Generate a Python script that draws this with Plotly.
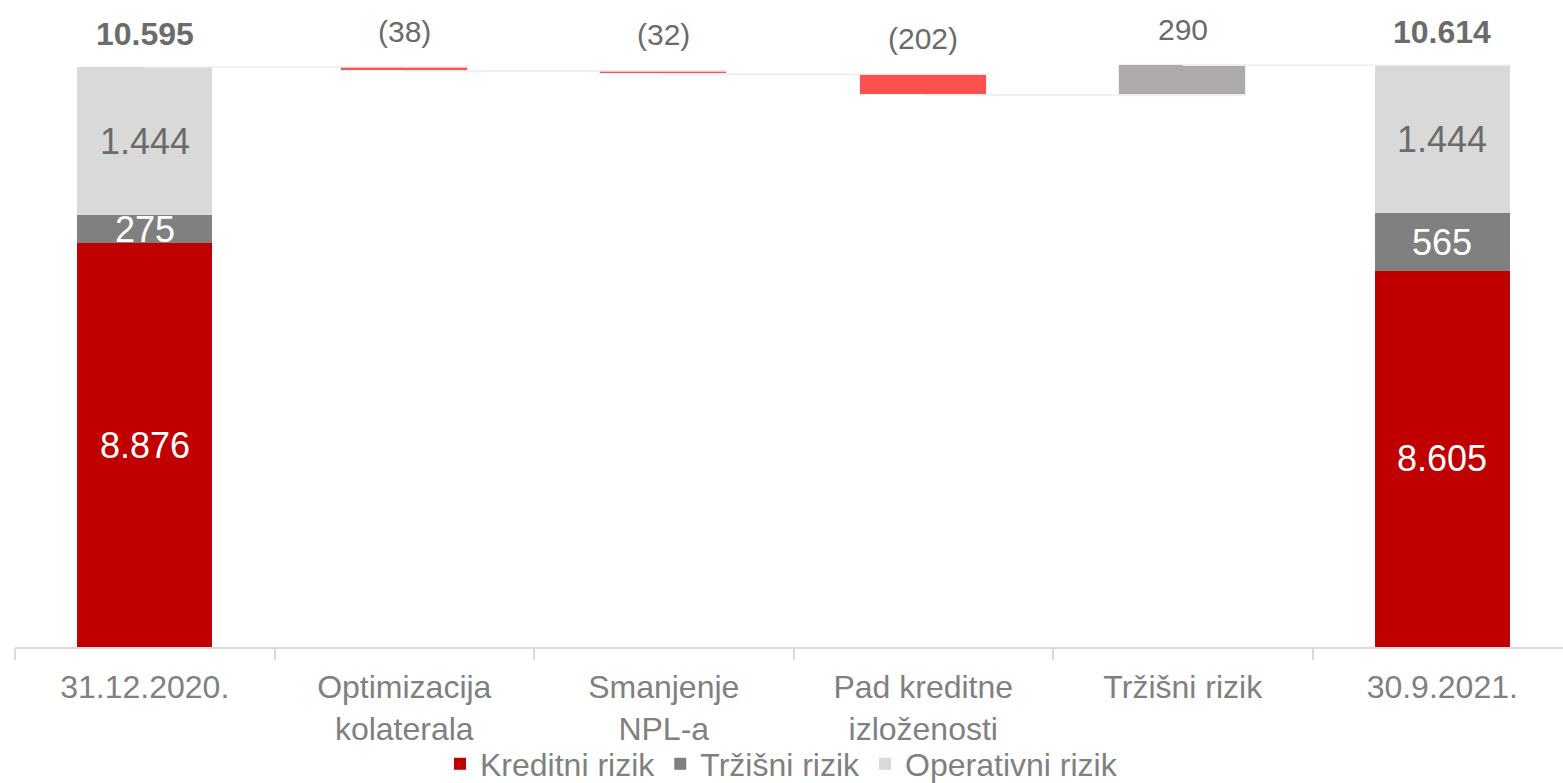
import plotly.graph_objects as go

# ---------------------------------------------------------------------------
# data
# ---------------------------------------------------------------------------
categories = [
    "31.12.2020.",
    "Optimizacija<br>kolaterala",
    "Smanjenje<br>NPL-a",
    "Pad kreditne<br>izloženosti",
    "Tržišni rizik",
    "30.9.2021.",
]
series_names = ["Kreditni rizik", "Tržišni rizik", "Operativni rizik"]
start_parts = [8876, 275, 1444]      # 31.12.2020.
end_parts = [8605, 565, 1444]        # 30.9.2021.
deltas = [-38, -32, -202, 290]       # bridge steps

COLOR_CREDIT = "#C00000"
COLOR_MARKET = "#808080"
COLOR_OPER = "#D9D9D9"
COLOR_DOWN = "#FF5050"
COLOR_UP = "#AEAAAA"
TXT_DARK = "#6B6B6B"
TXT_AXIS = "#808080"
FONT = "Arial, Liberation Sans, sans-serif"

Y_MIN, Y_MAX = 4936, 11200   # value axis is cut (not starting at zero)


def fmt(v):
    s = f"{abs(v):,}".replace(",", ".")
    return f"({s})" if v < 0 else s


n = len(categories)
xs = list(range(n))
end_w, mid_w = 0.52, 0.49

fig = go.Figure()
annotations = []

# stacked end columns
colors = [COLOR_CREDIT, COLOR_MARKET, COLOR_OPER]
for k, (name, color) in enumerate(zip(series_names, colors)):
    base_s = sum(start_parts[:k])
    base_e = sum(end_parts[:k])
    fig.add_trace(go.Bar(
        x=[xs[0], xs[-1]], y=[start_parts[k], end_parts[k]], base=[base_s, base_e],
        width=end_w, name=name, marker=dict(color=color, line=dict(width=0)),
        hoverinfo="skip",
    ))
    for x, base, v in [(xs[0], base_s, start_parts[k]), (xs[-1], base_e, end_parts[k])]:
        lo = max(base, Y_MIN)   # centre label in the visible part of the bar
        annotations.append(dict(
            x=x, y=(lo + base + v) / 2, text=fmt(v), yanchor="middle",
            font=dict(family=FONT, size=36, color=TXT_DARK if k == 2 else "white"),
        ))

# floating bridge bars
levels = [sum(start_parts)]
for d in deltas:
    levels.append(levels[-1] + d)
fig.add_trace(go.Bar(
    x=xs[1:-1], y=deltas, base=levels[:-1], width=mid_w, showlegend=False,
    marker=dict(color=[COLOR_DOWN if d < 0 else COLOR_UP for d in deltas],
                line=dict(color="#F2F2F2", width=1)),
    hoverinfo="skip",
))

# connectors
cx, cy = [], []
for i in range(n - 1):
    lvl = levels[i]
    cx += [xs[i], xs[i + 1] + (end_w if i + 1 == n - 1 else mid_w) / 2, None]
    cy += [lvl, lvl, None]
fig.add_trace(go.Scatter(x=cx, y=cy, mode="lines", showlegend=False, hoverinfo="skip",
                         line=dict(color="#EDEDED", width=1.5)))

# labels above columns
annotations.append(dict(x=xs[0], y=sum(start_parts), text=f"<b>{fmt(sum(start_parts))}</b>",
                        yanchor="middle", yshift=33,
                        font=dict(family=FONT, size=32, color=TXT_DARK)))
for i, d in enumerate(deltas):
    top = max(levels[i], levels[i + 1])
    annotations.append(dict(x=xs[i + 1], y=top, text=fmt(d), yanchor="middle", yshift=36,
                            font=dict(family=FONT, size=30, color=TXT_DARK)))
annotations.append(dict(x=xs[-1], y=sum(end_parts), text=f"<b>{fmt(sum(end_parts))}</b>",
                        yanchor="middle", yshift=33,
                        font=dict(family=FONT, size=32, color=TXT_DARK)))
for a in annotations:
    a.update(xref="x", yref="y", showarrow=False)

fig.update_layout(
    width=1563, height=783,
    paper_bgcolor="white", plot_bgcolor="white",
    barmode="overlay", bargap=0,
    margin=dict(l=15, r=0, t=5, b=136),
    font=dict(family=FONT, color=TXT_AXIS),
    annotations=annotations,
    xaxis=dict(
        range=[-0.5, -0.5 + 1548 / 259.5], tickvals=xs, ticktext=categories,
        ticks="", showgrid=False, zeroline=False, automargin=False,
        ticklabelstandoff=11,
        showline=True, linecolor="#D9D9D9", linewidth=2,
        tickfont=dict(family=FONT, size=32, color=TXT_AXIS),
        minor=dict(tick0=-0.5, dtick=1, ticks="outside", ticklen=11,
                   tickcolor="#D9D9D9", tickwidth=2, showgrid=False),
    ),
    yaxis=dict(range=[Y_MIN, Y_MAX], visible=False, showgrid=False, automargin=False),
    legend=dict(orientation="h", x=0.5, xanchor="center", xref="container",
                y=(783 - 764) / 783, yanchor="middle", yref="container",
                bgcolor="rgba(0,0,0,0)",
                font=dict(family=FONT, size=32, color=TXT_AXIS),
                itemwidth=30, tracegroupgap=0),
    showlegend=True,
)

fig.write_html("out.html", config={"displayModeBar": False},
               post_script="document.body.style.margin='0';")
